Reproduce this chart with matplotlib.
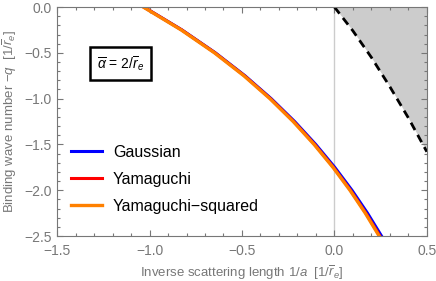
import numpy as np
import matplotlib
matplotlib.use("Agg")
import matplotlib.pyplot as plt
from matplotlib.ticker import MultipleLocator

plt.rcParams['font.family'] = ['Liberation Sans', 'DejaVu Sans']
plt.rcParams['mathtext.fontset'] = 'custom'
plt.rcParams['mathtext.rm'] = 'Liberation Sans'
plt.rcParams['mathtext.it'] = 'Liberation Sans:italic'

# binding wave number q vs inverse scattering length
q_vals = [0.0, 0.25, 0.5, 0.75, 1.0, 1.25, 1.5, 1.75, 2.0, 2.25, 2.5]
x_yamsq = [-1.034, -0.829, -0.649, -0.490, -0.349, -0.223, -0.110, -0.008, 0.084, 0.167, 0.242]
x_yam = [-1.031, -0.826, -0.646, -0.487, -0.346, -0.220, -0.107, -0.005, 0.087, 0.170, 0.246]
x_gauss = [-1.031, -0.825, -0.644, -0.484, -0.342, -0.215, -0.101, 0.002, 0.095, 0.179, 0.255]

# boundary of shaded region
x_bound = [0.0, 0.1, 0.2, 0.3, 0.4, 0.5]
y_bound = [0.0, -0.26, -0.55, -0.87, -1.21, -1.58]

gray = '#777777'

fig, ax = plt.subplots(figsize=(4.36, 2.81), dpi=100)
fig.subplots_adjust(left=0.131, right=0.979, bottom=0.160, top=0.975)

ax.fill_between(x_bound, y_bound, 0, color='#cccccc', lw=0)
ax.axvline(0, color='#cccccc', lw=1.0, zorder=1)
ax.plot(x_bound, y_bound, color='black', lw=2, ls=(0, (3, 2)))

y_q = -np.array(q_vals)
ax.plot(x_gauss, y_q, color='#0000ff', lw=2.2, label='Gaussian')
ax.plot(x_yam, y_q, color='#ff0000', lw=2.2, label='Yamaguchi')
ax.plot(x_yamsq, y_q, color='#ff8000', lw=2.4, label='Yamaguchi\u2212squared')

ax.set_xlim(-1.5, 0.5)
ax.set_ylim(-2.5, 0.0)
ax.xaxis.set_major_locator(MultipleLocator(0.5))
ax.xaxis.set_minor_locator(MultipleLocator(0.1))
ax.yaxis.set_major_locator(MultipleLocator(0.5))
ax.yaxis.set_minor_locator(MultipleLocator(0.1))
ax.xaxis.set_major_formatter(lambda v, p: f'{v:.1f}'.replace('-', '\u2212'))
ax.yaxis.set_major_formatter(lambda v, p: f'{v:.1f}'.replace('-', '\u2212'))
ax.tick_params(which='both', direction='in', top=True, right=True, color=gray,
               labelcolor=gray, labelsize=10, width=0.8)
ax.tick_params(which='major', length=4.5)
ax.tick_params(which='minor', length=2.5)
ax.tick_params(axis='x', which='major', pad=6)
ax.tick_params(axis='y', which='major', pad=4)
for s in ax.spines.values():
    s.set_color(gray)
    s.set_linewidth(0.8)

ax.set_xlabel(r'Inverse scattering length 1/$a$  [1/$\overline{r}_e$]', color=gray, fontsize=9.5, labelpad=4)
ax.set_ylabel(r'Binding wave number $-q$  [1/$\overline{r}_e$]', color=gray, fontsize=9.5, labelpad=4)

ax.text(-1.155, -0.62, r'$\overline{\alpha}$ = 2/$\overline{r}_e$', fontsize=10, ha='center', va='center',
        bbox=dict(boxstyle='square,pad=0.5', fc='white', ec='black', lw=1.8))

ax.legend(loc='lower left', bbox_to_anchor=(0.0, 0.035), frameon=False, fontsize=11.5,
          handlelength=1.9, handletextpad=0.7, labelspacing=0.75)

fig.savefig('out.png', dpi=100)
